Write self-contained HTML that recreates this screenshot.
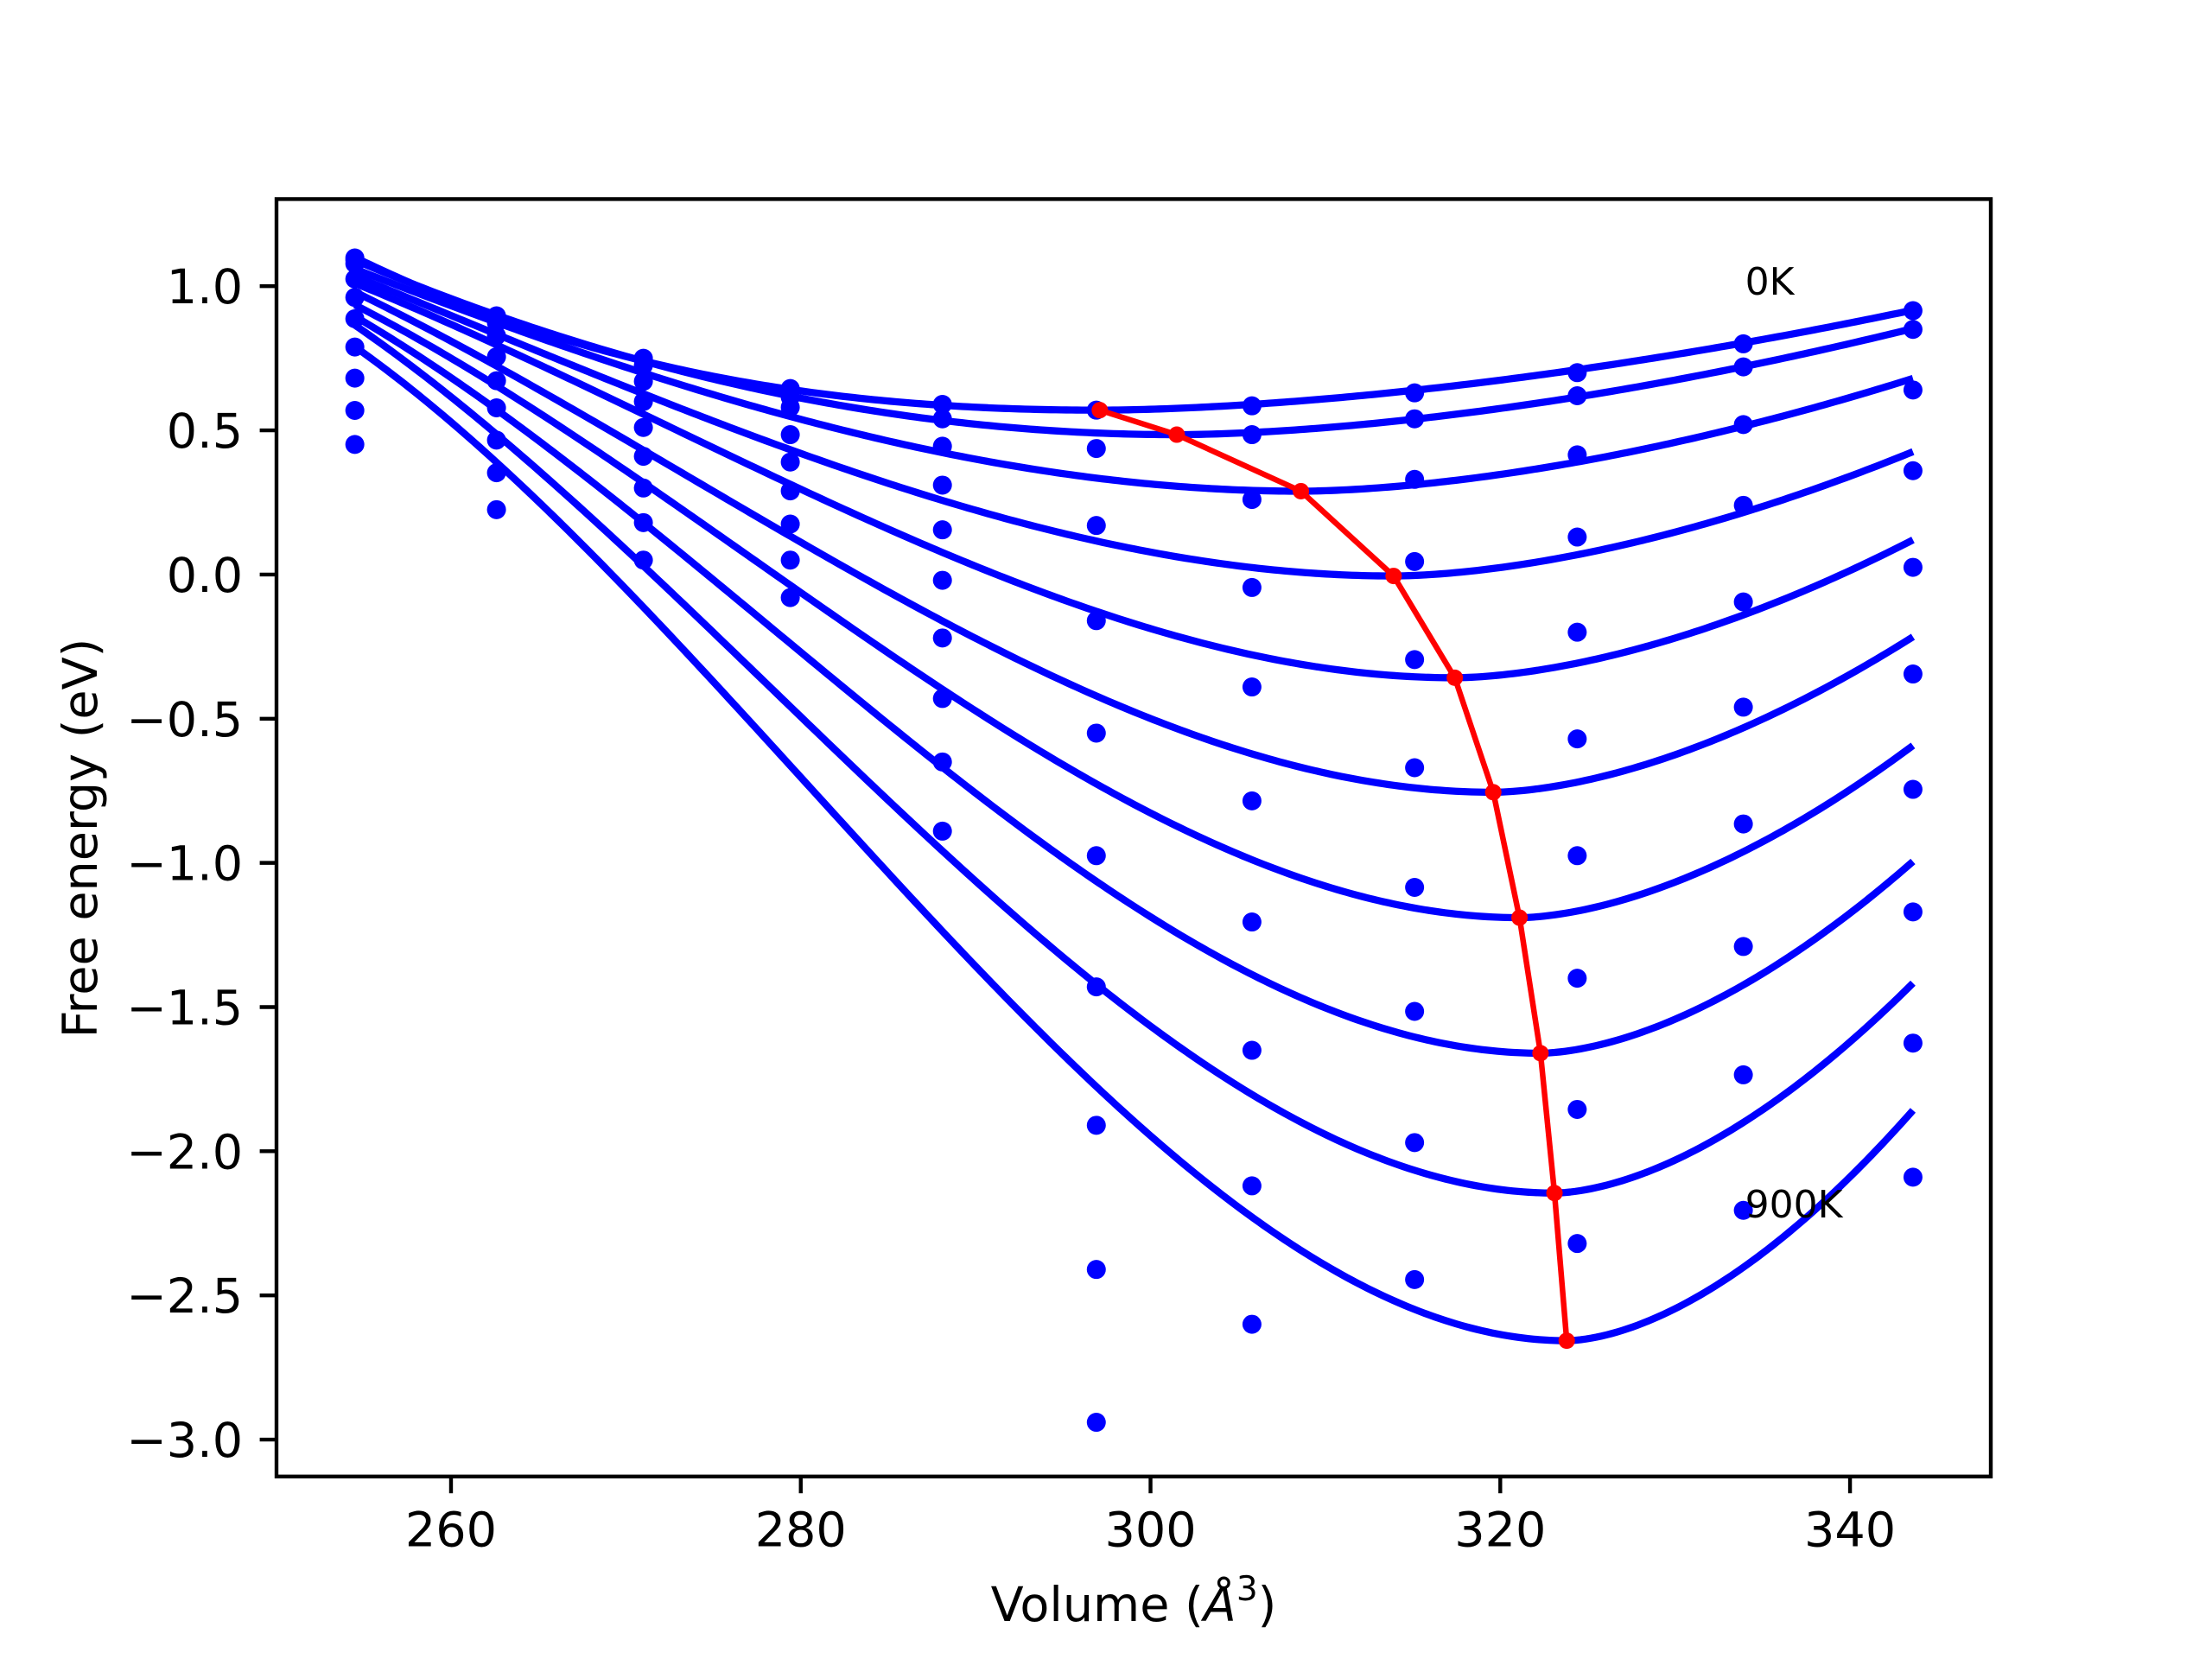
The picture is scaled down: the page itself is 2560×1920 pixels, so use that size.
<!DOCTYPE html>
<html><head><meta charset="utf-8"><style>
html,body{margin:0;padding:0;background:#fff;}
svg{display:block;font-family:"DejaVu Sans","Liberation Sans",sans-serif;}
</style></head><body>
<svg id="chart" width="2560" height="1920" viewBox="0 0 2560 1920" xmlns="http://www.w3.org/2000/svg">
<rect x="0" y="0" width="2560" height="1920" fill="#fff"/>
<g id="plot"></g>
<g id="axes"></g>
</svg>
<script>
const volumes = [254.5, 262.6, 271.0, 279.4, 288.1, 296.9, 305.8, 315.1, 324.4, 333.9, 343.6];
const temperatures = ['0K','100K','200K','300K','400K','500K','600K','700K','800K','900K'];
// dot energies per volume column (one value per temperature)
const dots254 = [1.098, 1.09, 1.078, 1.025, 0.961, 0.887, 0.789, 0.681, 0.569, 0.451];
const dots262 = [0.897, 0.89, 0.873, 0.828, 0.755, 0.672, 0.578, 0.466, 0.353, 0.225];
const dots271 = [0.75, 0.745, 0.725, 0.67, 0.60, 0.51, 0.41, 0.30, 0.18, 0.05];
const dots279 = [0.645, 0.64, 0.615, 0.58, 0.485, 0.39, 0.29, 0.175, 0.05, -0.08];
const dots288 = [0.59, 0.54, 0.445, 0.31, 0.155, -0.02, -0.22, -0.43, -0.65, -0.89];
const dots297 = [0.57, 0.437, 0.17, -0.16, -0.55, -0.975, -1.43, -1.91, -2.41, -2.94];
const dots306 = [0.585, 0.485, 0.26, -0.045, -0.39, -0.785, -1.205, -1.65, -2.12, -2.6];
const dots315 = [0.63, 0.54, 0.33, 0.045, -0.295, -0.67, -1.085, -1.515, -1.97, -2.445];
const dots324 = [0.70, 0.62, 0.415, 0.13, -0.2, -0.57, -0.975, -1.4, -1.855, -2.32];
const dots334 = [0.80, 0.72, 0.52, 0.24, -0.095, -0.46, -0.865, -1.29, -1.735, -2.205];
const dots344 = [0.915, 0.85, 0.64, 0.36, 0.025, -0.345, -0.745, -1.17, -1.625, -2.09];
// fitted curves: minimum, value at left end, value at V=279.4, value at right end
const minV = [297.1, 301.5, 308.6, 313.9, 317.4, 319.6, 321.1, 322.3, 323.1, 323.8];
const minE = [0.57, 0.485, 0.289, -0.005, -0.358, -0.755, -1.19, -1.66, -2.145, -2.657];
const leftE = [1.10, 1.09, 1.06, 1.035, 1.01, 0.98, 0.935, 0.895, 0.865, 0.79];
const midE = [0.642, 0.619, 0.548, 0.433, 0.313, 0.133, -0.037, -0.239, -0.458, -0.663];
const rightE = [0.917, 0.853, 0.68, 0.426, 0.12, -0.216, -0.593, -0.995, -1.417, -1.858];
const xTicks = [260, 280, 300, 320, 340];
const yTicks = [1.0, 0.5, 0.0, -0.5, -1.0, -1.5, -2.0, -2.5, -3.0];
const annotations = [{t:'0K', v:334, e:0.97}, {t:'900K', v:334, e:-2.23}];

const MID_V = 279.4, RIGHT_P = 1.7;
const L=320, R=2304, T=230.4, B=1708.8;
const XMIN=250.02, XMAX=348.05, YMIN=-3.128, YMAX=1.302;
const xs = v => L + (v - XMIN) / (XMAX - XMIN) * (R - L);
const ys = e => B - (e - YMIN) / (YMAX - YMIN) * (B - T);
const NS='http://www.w3.org/2000/svg';
const plot=document.getElementById('plot'), axes=document.getElementById('axes');
function mk(tag, attrs, parent){const el=document.createElementNS(NS,tag);for(const k in attrs)el.setAttribute(k,attrs[k]);parent.appendChild(el);return el;}

const clip=mk('clipPath',{id:'clip'},plot);
mk('rect',{x:L,y:T,width:R-L,height:B-T},clip);
const g=mk('g',{'clip-path':'url(#clip)'},plot);

function curveFn(i){
  const v0=minV[i], e0=minE[i];
  const dl=v0-volumes[0], dm=v0-MID_V, dr=volumes[volumes.length-1]-v0;
  const yl=leftE[i]-e0, ym=midE[i]-e0, yr=rightE[i]-e0;
  // left: k d^2 + m d^3 through (dm,ym),(dl,yl)
  const a11=dm*dm, a12=dm*dm*dm, a21=dl*dl, a22=dl*dl*dl;
  const det=a11*a22-a12*a21;
  const k=(ym*a22-a12*yl)/det, m=(a11*yl-ym*a21)/det;
  return v=>{
    if(v<=v0){const d=v0-v;return e0+k*d*d+m*d*d*d;}
    const d=(v-v0)/dr;return e0+yr*Math.pow(d,RIGHT_P);
  };
}
for(let i=0;i<temperatures.length;i++){
  const f=curveFn(i);
  let d='';
  const v1=volumes[0], v2=volumes[volumes.length-1];
  for(let k=0;k<=300;k++){
    const v=v1+(v2-v1)*k/300;
    d+=(k?'L':'M')+xs(v).toFixed(2)+' '+ys(f(v)).toFixed(2);
  }
  const p=mk('path',{d:d,fill:'none',stroke:'#0000ff','stroke-width':8.3,'stroke-linejoin':'round'},g);
  
  
}
const cols=[dots254,dots262,dots271,dots279,dots288,dots297,dots306,dots315,dots324,dots334,dots344];
for(let j=0;j<volumes.length;j++){
  for(let i=0;i<temperatures.length;i++){
    const c=mk('circle',{cx:xs(volumes[j]),cy:ys(cols[j][i]),r:11,fill:'#0000ff'},g);
    
    
  }
}
let rd='';
for(let i=0;i<minV.length;i++) rd+=(i?'L':'M')+xs(minV[i]).toFixed(2)+' '+ys(minE[i]).toFixed(2);
const rl=mk('path',{d:rd,fill:'none',stroke:'#ff0000','stroke-width':6.5,'stroke-linejoin':'round'},g);


for(let i=0;i<minV.length;i++){
  const c=mk('circle',{cx:xs(minV[i]),cy:ys(minE[i]),r:9.5,fill:'#ff0000'},g);
  
  
}
for(const a of annotations){
  const t=mk('text',{x:xs(a.v),y:ys(a.e),'font-size':44,fill:'#000'},plot);
  t.textContent=a.t;
  
  
}
const fr=mk('rect',{x:L,y:T,width:R-L,height:B-T,fill:'none',stroke:'#000','stroke-width':4.4},axes);


for(const v of xTicks){
  const x=xs(v);
  const tk=mk('line',{x1:x,x2:x,y1:B,y2:B+19.4,stroke:'#000','stroke-width':4.4},axes);
  
  
  const t=mk('text',{x:x,y:B+38.8+42,'font-size':55.6,'text-anchor':'middle'},axes);
  t.textContent=String(v);
  
  
}
for(const e of yTicks){
  const y=ys(e);
  const tk=mk('line',{x1:L-19.4,x2:L,y1:y,y2:y,stroke:'#000','stroke-width':4.4},axes);
  
  
  const t=mk('text',{x:L-38.8,y:y+20,'font-size':55.6,'text-anchor':'end'},axes);
  t.textContent=(e<0?'\u2212':'')+Math.abs(e).toFixed(1);
  
  
}
</script>
<svg style="position:absolute;left:0;top:0" width="2560" height="1920">
<text x="1312" y="1876" font-size="55.6" text-anchor="middle" font-family="DejaVu Sans, Liberation Sans, sans-serif">Volume (<tspan font-style="italic">Å</tspan><tspan font-size="39" dy="-24">3</tspan><tspan dy="24">)</tspan></text>
<text x="0" y="0" font-size="55.6" text-anchor="middle" font-family="DejaVu Sans, Liberation Sans, sans-serif" transform="translate(112 970) rotate(-90)">Free energy (eV)</text>
</svg>
</body></html>
